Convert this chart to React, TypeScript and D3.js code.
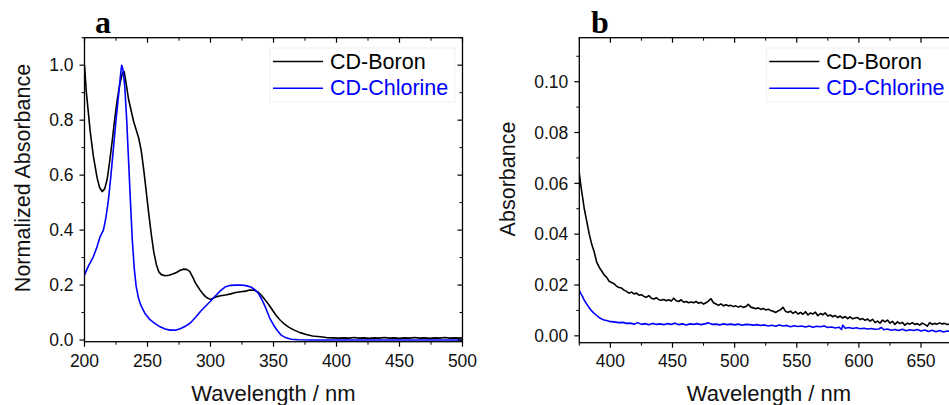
import React from "react";
import * as d3 from "d3";

type Pt = [number, number];

// Panel a: normalized absorbance (wavelength nm, value)
const boronA: Pt[] = [
  [200, 1.0], [201.5, 0.9], [203, 0.83], [204.5, 0.76], [207, 0.67], [210, 0.59], [212, 0.555], [214, 0.54],
  [216, 0.55], [218, 0.585], [220, 0.65], [222, 0.725], [224, 0.805], [226, 0.875], [228, 0.93], [230, 0.97],
  [231.5, 0.977], [233, 0.935], [235, 0.875], [237, 0.835], [239, 0.795], [241, 0.765], [243, 0.735], [245, 0.69],
  [247, 0.62], [249, 0.54], [251, 0.46], [253, 0.385], [255, 0.32], [257, 0.275], [259, 0.248], [261, 0.238],
  [264, 0.234], [267, 0.236], [270, 0.24], [273, 0.246], [276, 0.254], [278.5, 0.258], [281, 0.257], [283.5, 0.25],
  [286, 0.228], [288, 0.208], [290, 0.194], [292, 0.18], [294, 0.168], [296, 0.158], [298, 0.152], [300, 0.148],
  [302, 0.152], [305, 0.158], [308, 0.161], [312, 0.164], [316, 0.168], [320, 0.173], [324, 0.176], [328, 0.178],
  [331, 0.182], [335, 0.181], [338, 0.174], [340, 0.165], [343, 0.148], [346, 0.13], [349, 0.11], [352, 0.09],
  [355, 0.074], [358, 0.061], [362, 0.047], [366, 0.037], [371, 0.027], [376, 0.02], [381, 0.015], [387, 0.012],
  [392, 0.009], [397, 0.008], [402, 0.007], [406, 0.008], [410, 0.007], [414, 0.009], [418, 0.007], [422, 0.008],
  [426, 0.006], [430, 0.008], [434, 0.007], [438, 0.009], [442, 0.007], [446, 0.008], [450, 0.006], [454, 0.008],
  [458, 0.007], [462, 0.009], [466, 0.007], [470, 0.008], [474, 0.006], [478, 0.008], [482, 0.007], [486, 0.009],
  [490, 0.007], [494, 0.008], [498, 0.007], [500, 0.009],
];

const chlorineA: Pt[] = [
  [200, 0.237], [203, 0.268], [207, 0.303], [210, 0.34], [212.3, 0.375], [215, 0.4], [217, 0.445], [219, 0.51],
  [221, 0.6], [223, 0.7], [225, 0.8], [227, 0.89], [228.5, 0.96], [229.5, 1.0], [230.5, 0.985], [232, 0.92],
  [233.5, 0.8], [235, 0.65], [236.5, 0.5], [238, 0.36], [239.5, 0.26], [241, 0.195], [243, 0.15], [245, 0.123],
  [248, 0.097], [252, 0.074], [256, 0.06], [260, 0.048], [264, 0.04], [268, 0.036], [272, 0.036], [276, 0.041],
  [280, 0.05], [284, 0.062], [288, 0.082], [292, 0.104], [296, 0.123], [300, 0.141], [304, 0.161], [308, 0.18],
  [312, 0.194], [316, 0.199], [320, 0.2], [324, 0.2], [328, 0.198], [332, 0.193], [335, 0.184], [338, 0.17],
  [341, 0.145], [344, 0.115], [347, 0.08], [350, 0.055], [353, 0.035], [356, 0.018], [360, 0.008], [364, 0.003],
  [370, 0.001], [380, 0.0], [400, 0.0], [450, 0.0], [500, 0.0],
];

// Panel b: absorbance
const boronB: Pt[] = [
  [375, 0.064], [376, 0.06], [377.5, 0.055], [379, 0.05], [381, 0.045], [383, 0.04], [385, 0.036], [387, 0.033],
  [389, 0.029], [391, 0.027], [393, 0.0255], [395, 0.024], [397, 0.023], [399, 0.0215], [401, 0.021], [403, 0.0205],
  [405, 0.0195], [407, 0.019], [409, 0.0188], [411, 0.018], [413, 0.0175], [415, 0.0168], [417, 0.0172], [419, 0.0165],
  [421, 0.0168], [423, 0.016], [425, 0.0162], [427, 0.0155], [429, 0.0152], [431, 0.0158], [433, 0.0148], [435, 0.0145],
  [437, 0.015], [439, 0.0142], [441, 0.014], [443, 0.0143], [445, 0.0138], [447, 0.0142], [449, 0.0137], [451, 0.0148],
  [453, 0.0138], [455, 0.0135], [457, 0.0142], [459, 0.0132], [461, 0.0135], [463, 0.013], [465, 0.0133], [467, 0.013],
  [469, 0.0135], [471, 0.0128], [473, 0.0132], [475, 0.0125], [477, 0.013], [479, 0.0138], [481, 0.0146], [483, 0.013],
  [485, 0.0125], [487, 0.012], [489, 0.0126], [491, 0.0118], [493, 0.0122], [495, 0.0118], [497, 0.012], [499, 0.0115],
  [501, 0.0118], [503, 0.0113], [505, 0.0117], [507, 0.0112], [509, 0.0115], [511, 0.0124], [513, 0.0113], [515, 0.011],
  [517, 0.0107], [519, 0.011], [521, 0.0104], [523, 0.0108], [525, 0.0102], [527, 0.0105], [529, 0.01], [531, 0.0097],
  [533, 0.0092], [535, 0.0098], [537, 0.0103], [539, 0.0112], [541, 0.0096], [543, 0.0093], [545, 0.0097], [547, 0.0088],
  [549, 0.0095], [551, 0.0086], [553, 0.0092], [555, 0.0085], [557, 0.0095], [559, 0.0082], [561, 0.009], [563, 0.0086],
  [565, 0.0093], [567, 0.0079], [569, 0.0088], [571, 0.0083], [573, 0.009], [575, 0.0078], [577, 0.0082], [579, 0.0075],
  [581, 0.008], [583, 0.0072], [585, 0.0078], [587, 0.007], [589, 0.0076], [591, 0.0068], [593, 0.0075], [595, 0.0067],
  [597, 0.007], [599, 0.0072], [601, 0.0064], [603, 0.0068], [605, 0.0061], [607, 0.0066], [609, 0.0058], [611, 0.0065],
  [613, 0.0052], [615, 0.0058], [617, 0.005], [619, 0.0062], [621, 0.0055], [623, 0.0062], [625, 0.005], [627, 0.0057],
  [629, 0.0045], [631, 0.0055], [633, 0.0048], [635, 0.0053], [637, 0.0042], [639, 0.005], [641, 0.0046], [643, 0.0052],
  [645, 0.0045], [647, 0.0048], [649, 0.0042], [651, 0.005], [653, 0.0045], [655, 0.0038], [657, 0.0052], [659, 0.0045],
  [661, 0.0049], [663, 0.0046], [665, 0.0051], [667, 0.0047], [669, 0.0049], [671, 0.0045], [673, 0.0046],
];

const chlorineB: Pt[] = [
  [375, 0.018], [376, 0.0168], [377.5, 0.0155], [379, 0.014], [381, 0.0125], [383, 0.011], [385, 0.0098], [387, 0.0088],
  [389, 0.008], [391, 0.0072], [393, 0.0066], [395, 0.0062], [397, 0.006], [399, 0.0057], [401, 0.0056], [404, 0.0054],
  [407, 0.0052], [410, 0.0053], [413, 0.0049], [416, 0.005], [419, 0.0046], [422, 0.0052], [425, 0.0045], [428, 0.0048],
  [431, 0.0044], [434, 0.0049], [437, 0.0045], [440, 0.0047], [443, 0.0044], [446, 0.0048], [449, 0.0045], [452, 0.005],
  [455, 0.0044], [458, 0.0047], [461, 0.0043], [464, 0.0047], [467, 0.0045], [470, 0.0048], [473, 0.0044], [476, 0.0047],
  [479, 0.0051], [482, 0.0045], [485, 0.0046], [488, 0.0043], [491, 0.0047], [494, 0.0044], [497, 0.0046], [500, 0.0043],
  [503, 0.0046], [506, 0.0042], [509, 0.0045], [512, 0.0044], [515, 0.0042], [518, 0.0044], [521, 0.0041], [524, 0.0043],
  [527, 0.0039], [530, 0.0042], [533, 0.0038], [536, 0.0043], [539, 0.0039], [542, 0.0041], [545, 0.0036], [548, 0.004],
  [551, 0.0037], [554, 0.0039], [557, 0.0035], [560, 0.0039], [563, 0.0034], [566, 0.0038], [569, 0.0036], [572, 0.0039],
  [575, 0.0033], [578, 0.0035], [581, 0.0031], [584, 0.0034], [586, 0.0025], [587, 0.0042], [589, 0.003], [592, 0.0033],
  [595, 0.0029], [598, 0.0032], [601, 0.0028], [604, 0.003], [607, 0.0027], [610, 0.0029], [613, 0.0026], [616, 0.0027],
  [618, 0.0033], [620, 0.0024], [623, 0.0027], [626, 0.0022], [629, 0.0025], [632, 0.0021], [635, 0.0026], [638, 0.002],
  [641, 0.0024], [644, 0.0021], [647, 0.0025], [650, 0.0019], [653, 0.0023], [656, 0.0017], [659, 0.0022], [662, 0.0016],
  [665, 0.0021], [668, 0.0015], [671, 0.0019], [673, 0.0018],
];

const xTicksA = [200, 250, 300, 350, 400, 450, 500];
const yTicksA = [0.0, 0.2, 0.4, 0.6, 0.8, 1.0];
const xTicksB = [400, 450, 500, 550, 600, 650];
const yTicksB = [0.0, 0.02, 0.04, 0.06, 0.08, 0.1];
const seriesNames = ["CD-Boron", "CD-Chlorine"];
const seriesColors = ["#000000", "#0000ff"];

const SANS = "'Liberation Sans', Arial, Helvetica, sans-serif";

interface PanelProps {
  label: string;
  labelX: number;
  xDomain: [number, number];
  xRange: [number, number];
  yDomain: [number, number];
  yRange: [number, number];
  xTicks: number[];
  xMinorStep: number;
  yTicks: number[];
  yMinorStep: number;
  yFmt: (v: number) => string;
  series: Pt[][];
  yTitle: string;
  yTitlePos: [number, number];
  xTitleX: number;
  legendX: number;
  legendBoxW: number;
}

function Panel(p: PanelProps) {
  const x = d3.scaleLinear().domain(p.xDomain).range(p.xRange);
  const y = d3.scaleLinear().domain(p.yDomain).range(p.yRange);
  const [x0, x1] = p.xRange;
  const [yb, yt] = p.yRange;
  const line = d3
    .line<Pt>()
    .x((d) => x(d[0]))
    .y((d) => y(d[1]));

  const xMinor: number[] = [];
  for (let v = Math.ceil(p.xDomain[0] / p.xMinorStep) * p.xMinorStep; v <= p.xDomain[1] + 1e-9; v += p.xMinorStep) {
    if (!p.xTicks.some((t) => Math.abs(t - v) < 1e-9)) xMinor.push(v);
  }
  const yMinor: number[] = [];
  for (let i = Math.ceil(p.yDomain[0] / p.yMinorStep); i * p.yMinorStep <= p.yDomain[1] + 1e-12; i++) {
    const v = i * p.yMinorStep;
    if (!p.yTicks.some((t) => Math.abs(t - v) < 1e-9)) yMinor.push(v);
  }
  const MAJ = 5;
  const MIN = 3;
  const clipId = "clip-" + p.label;

  return (
    <g>
      <defs>
        <clipPath id={clipId}>
          <rect x={x0} y={yt} width={x1 - x0} height={yb - yt} />
        </clipPath>
      </defs>
      <text x={p.labelX} y={33} fontFamily="'Liberation Serif', 'Times New Roman', serif" fontWeight="bold" fontSize={32}>
        {p.label}
      </text>
      {/* legend box */}
      <rect x={p.legendX - 3} y={48} width={p.legendBoxW} height={54} fill="none" stroke="#efefef" strokeWidth={1} />
      {/* curves */}
      <g clipPath={`url(#${clipId})`}>
        {p.series.map((s, i) => (
          <path key={i} d={line(s) || ""} fill="none" stroke={seriesColors[i]} strokeWidth={1.6} strokeLinejoin="round" />
        ))}
      </g>
      {/* frame */}
      <rect x={x0} y={yt} width={x1 - x0} height={yb - yt} fill="none" stroke="#000" strokeWidth={1.3} />
      {/* x ticks bottom (out) and top (in) */}
      {p.xTicks.map((t) => (
        <g key={"xt" + t}>
          <line x1={x(t)} x2={x(t)} y1={yb} y2={yb + MAJ} stroke="#000" strokeWidth={1.2} />
          <line x1={x(t)} x2={x(t)} y1={yt} y2={yt + MAJ} stroke="#000" strokeWidth={1.2} />
          <text x={x(t)} y={367} textAnchor="middle" fontFamily={SANS} fontSize={17.5} fill="#111">
            {t}
          </text>
        </g>
      ))}
      {xMinor.map((t) => (
        <g key={"xm" + t}>
          <line x1={x(t)} x2={x(t)} y1={yb} y2={yb + MIN} stroke="#000" strokeWidth={1} />
          <line x1={x(t)} x2={x(t)} y1={yt} y2={yt + MIN} stroke="#000" strokeWidth={1} />
        </g>
      ))}
      {/* y ticks left (out) and right (in) */}
      {p.yTicks.map((t) => (
        <g key={"yt" + t}>
          <line x1={x0 - MAJ} x2={x0} y1={y(t)} y2={y(t)} stroke="#000" strokeWidth={1.2} />
          <line x1={x1 - MAJ} x2={x1} y1={y(t)} y2={y(t)} stroke="#000" strokeWidth={1.2} />
          <text x={x0 - 11} y={y(t)} dy="0.36em" textAnchor="end" fontFamily={SANS} fontSize={17.5} fill="#111">
            {p.yFmt(t)}
          </text>
        </g>
      ))}
      {yMinor.map((t) => (
        <g key={"ym" + t}>
          <line x1={x0 - MIN} x2={x0} y1={y(t)} y2={y(t)} stroke="#000" strokeWidth={1} />
          <line x1={x1 - MIN} x2={x1} y1={y(t)} y2={y(t)} stroke="#000" strokeWidth={1} />
        </g>
      ))}
      {/* axis titles */}
      <text x={p.xTitleX} y={401} textAnchor="middle" fontFamily={SANS} fontSize={22} fill="#111">
        Wavelength / nm
      </text>
      <text
        transform={`translate(${p.yTitlePos[0]},${p.yTitlePos[1]}) rotate(-90)`}
        textAnchor="middle"
        fontFamily={SANS}
        fontSize={21.5}
        fill="#111"
      >
        {p.yTitle}
      </text>
      {/* legend */}
      {seriesNames.map((n, i) => (
        <g key={n}>
          <line
            x1={p.legendX}
            x2={p.legendX + 50}
            y1={61.5 + i * 26.8}
            y2={61.5 + i * 26.8}
            stroke={seriesColors[i]}
            strokeWidth={1.5}
          />
          <text x={p.legendX + 57} y={68.5 + i * 26.8} fontFamily={SANS} fontSize={21.5} fill={seriesColors[i]}>
            {n}
          </text>
        </g>
      ))}
    </g>
  );
}

export default function App() {
  return (
    <div style={{ position: "absolute", left: 0, top: 0, width: 949, height: 405, overflow: "hidden", background: "#fff" }}>
      <svg width={949} height={405} style={{ display: "block" }}>
        <rect x={0} y={0} width={949} height={405} fill="#fff" />
        <Panel
          label="a"
          labelX={95}
          xDomain={[200, 500]}
          xRange={[84.5, 462.5]}
          yDomain={[-0.006, 1.1]}
          yRange={[341.7, 37.7]}
          xTicks={xTicksA}
          xMinorStep={25}
          yTicks={yTicksA}
          yMinorStep={0.1}
          yFmt={d3.format(".1f")}
          series={[boronA, chlorineA]}
          yTitle="Normalized Absorbance"
          yTitlePos={[30, 178]}
          xTitleX={273.5}
          legendX={273}
          legendBoxW={185}
        />
        <Panel
          label="b"
          labelX={591}
          xDomain={[375, 680]}
          xRange={[579.3, 958.3]}
          yDomain={[-0.0027, 0.1173]}
          yRange={[342.7, 37.7]}
          xTicks={xTicksB}
          xMinorStep={25}
          yTicks={yTicksB}
          yMinorStep={0.01}
          yFmt={d3.format(".2f")}
          series={[boronB, chlorineB]}
          yTitle="Absorbance"
          yTitlePos={[515, 179]}
          xTitleX={769}
          legendX={769.3}
          legendBoxW={190}
        />
      </svg>
    </div>
  );
}
